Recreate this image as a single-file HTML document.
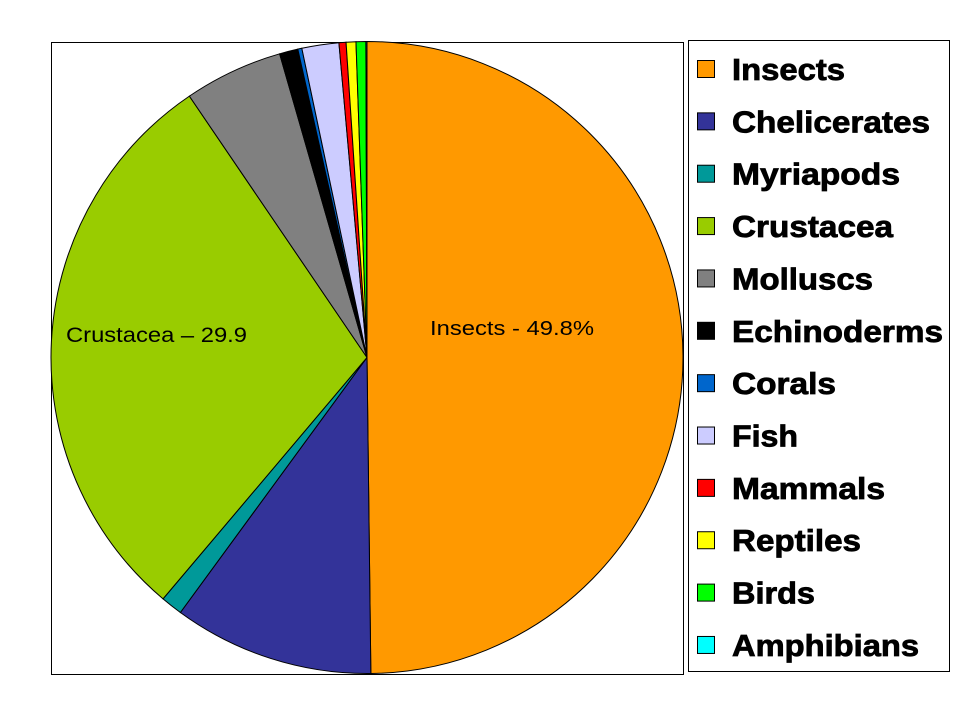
<!DOCTYPE html>
<html><head><style>body{margin:0;background:#fff}svg{display:block}</style></head>
<body>
<svg id="s" width="960" height="720" xmlns="http://www.w3.org/2000/svg" font-family="Liberation Sans, Arial, sans-serif">
<rect x="51.5" y="42.5" width="632" height="632" fill="#fff" stroke="#000"/>
<rect x="688.5" y="40.5" width="261" height="631" fill="#fff" stroke="#000"/>
<g id="pie"></g>
<text x="430" y="335" font-size="20" textLength="164" lengthAdjust="spacingAndGlyphs">Insects - 49.8%</text>
<text x="66" y="342" font-size="21" textLength="181" lengthAdjust="spacingAndGlyphs">Crustacea – 29.9</text>
<g id="leg" font-size="31" font-weight="bold" stroke="#000" stroke-width="0.8"></g>
</svg>
<script>
var cx=367,cy=357.5,r=316;
var d=[[179.3,"#FF9900","Insects",113],[216.2,"#333399","Chelicerates",198],[220.2,"#009999","Myriapods",168],[325.8,"#99CC00","Crustacea",161],[343.95,"#808080","Molluscs",141],[347.35,"#000000","Echinoderms",211],[348.1,"#0066CC","Corals",104],[354.9,"#CCCCFF","Fish",66],[356.2,"#FF0000","Mammals",153],[358,"#FFFF00","Reptiles",129],[359.8,"#00FF00","Birds",83],[360,"#00FFFF","Amphibians",187]];
var ns="http://www.w3.org/2000/svg",g=document.getElementById("pie"),lg=document.getElementById("leg");
function pt(a){a=a*Math.PI/180;return [cx+r*Math.sin(a),cy-r*Math.cos(a)];}
var prev=0;
d.forEach(function(e,i){
 var p0=pt(prev),p1=pt(e[0]),large=(e[0]-prev)>180?1:0;
 var p=document.createElementNS(ns,"path");
 p.setAttribute("d","M"+cx+","+cy+"L"+p0[0]+","+p0[1]+"A"+r+","+r+" 0 "+large+" 1 "+p1[0]+","+p1[1]+"Z");
 p.setAttribute("fill",e[1]);p.setAttribute("stroke","#000");p.setAttribute("stroke-width","1");
 g.appendChild(p);prev=e[0];
 var y=69+i*52.36;
 var s=document.createElementNS(ns,"rect");
 s.setAttribute("x",697.5);s.setAttribute("y",y-8.5);s.setAttribute("width",17);s.setAttribute("height",17);
 s.setAttribute("fill",e[1]);s.setAttribute("stroke-width","1");lg.appendChild(s);
 var t=document.createElementNS(ns,"text");
 t.setAttribute("x",732);t.setAttribute("y",y+11);t.setAttribute("textLength",e[3]);t.setAttribute("lengthAdjust","spacingAndGlyphs");
 t.textContent=e[2];lg.appendChild(t);
});
</script>
</body></html>
